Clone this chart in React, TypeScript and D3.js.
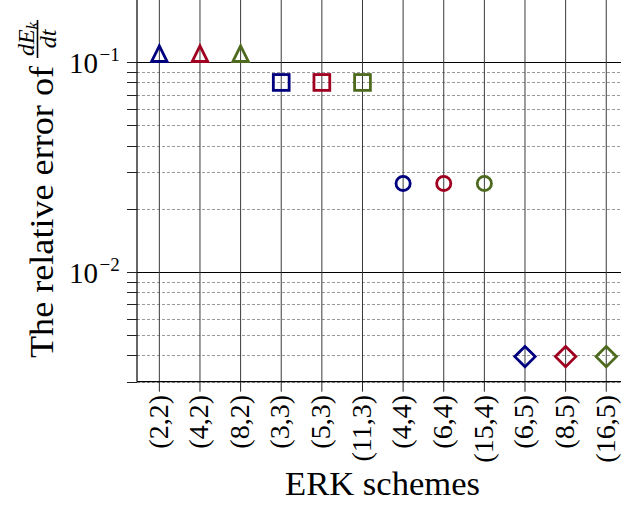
import React from "react";
import * as d3 from "d3";

// ERK schemes (stages, order) and the relative error of dE_k/dt for each
const schemes = ["(2,2)", "(4,2)", "(8,2)", "(3,3)", "(5,3)", "(11,3)", "(4,4)", "(6,4)", "(15,4)", "(6,5)", "(8,5)", "(16,5)"];
const relError = [0.1095, 0.1095, 0.1095, 0.0799, 0.0799, 0.0799, 0.0264, 0.0264, 0.0264, 0.00395, 0.00395, 0.00395];
const markerKinds = ["triangle", "triangle", "triangle", "square", "square", "square", "circle", "circle", "circle", "diamond", "diamond", "diamond"];
const palette = ["#00007F", "#A00020", "#4E6A1E"];
const majorTicks = [0.01, 0.1];
const minorTicks = [0.003, 0.004, 0.005, 0.006, 0.007, 0.008, 0.009, 0.02, 0.03, 0.04, 0.05, 0.06, 0.07, 0.08, 0.09];
const majorTickText = ["−2", "−1"];

const W = 621;
const H = 506;
const left = 137;
const bottom = 381.7;
const top = -1.2;
const right = 628.6;

const FONT = "'Liberation Serif', 'Times New Roman', serif";

// crisp 1px horizontal lines
const snap = (v: number) => Math.round(v) + 0.5;

function Marker({ kind, cx, cy, color }: { kind: string; cx: number; cy: number; color: string }) {
  const sw = 2.8;
  if (kind === "triangle") {
    const r = 7.8;
    const p = `M${cx},${cy - r} L${cx - r},${cy + r} L${cx + r},${cy + r} Z`;
    return <path d={p} fill="none" stroke={color} strokeWidth={sw} strokeLinejoin="miter" />;
  }
  if (kind === "square") {
    const r = 7.9;
    return <rect x={cx - r} y={cy - r} width={2 * r} height={2 * r} fill="none" stroke={color} strokeWidth={sw} />;
  }
  if (kind === "circle") {
    return <circle cx={cx} cy={cy} r={7.1} fill="none" stroke={color} strokeWidth={sw} />;
  }
  const r = 10.2;
  const p = `M${cx},${cy - r} L${cx + r},${cy} L${cx},${cy + r} L${cx - r},${cy} Z`;
  return <path d={p} fill="none" stroke={color} strokeWidth={sw} />;
}

export default function App() {
  const x = d3.scalePoint<string>().domain(schemes).range([left, right]).padding(0.55);
  const y = d3.scaleLog().domain([0.003, 0.2]).range([bottom, top]);

  return (
    <svg width={W} height={H} style={{ position: "absolute", left: 0, top: 0, background: "#fff" }} fontFamily={FONT}>
      <rect x={0} y={0} width={W} height={H} fill="#fff" />
      {/* minor horizontal grid */}
      {minorTicks.map((v) => (
        <line key={"mg" + v} x1={left} x2={right} y1={snap(y(v))} y2={snap(y(v))} stroke="#9a9a9a" strokeWidth={1} strokeDasharray="3,2" />
      ))}
      {/* major horizontal grid */}
      {majorTicks.map((v) => (
        <line key={"Mg" + v} x1={left} x2={right} y1={snap(y(v))} y2={snap(y(v))} stroke="#000" strokeWidth={1} />
      ))}
      {/* vertical grid */}
      {schemes.map((s) => (
        <line key={"vg" + s} x1={x(s)} x2={x(s)} y1={top} y2={bottom} stroke="#3a3a3a" strokeWidth={1} />
      ))}
      {/* spines */}
      <line x1={left} x2={left} y1={top} y2={bottom} stroke="#000" strokeWidth={1.2} />
      <line x1={left} x2={right} y1={bottom} y2={bottom} stroke="#000" strokeWidth={1.2} />
      {/* y ticks */}
      {[...majorTicks, ...minorTicks].map((v) => (
        <line key={"yt" + v} x1={left - 10} x2={left} y1={snap(y(v))} y2={snap(y(v))} stroke="#222" strokeWidth={1} />
      ))}
      {majorTicks.map((v, i) => (
        <g key={"yl" + v}>
          <text x={98} y={y(v) + 11} fontSize={29} textAnchor="end" fill="#000">10</text>
          <text x={99.5} y={y(v) - 0.5} fontSize={19} textAnchor="start" fill="#000">{majorTickText[i]}</text>
        </g>
      ))}
      {/* x ticks and labels */}
      {schemes.map((s) => (
        <g key={"xt" + s}>
          <line x1={x(s)} x2={x(s)} y1={bottom} y2={bottom + 10} stroke="#222" strokeWidth={1} />
          <text transform={`translate(${x(s)! - 1},395) rotate(-90)`} textAnchor="end" dy="0.33em" fontSize={28} fill="#000">{s}</text>
        </g>
      ))}
      {/* markers */}
      {schemes.map((s, i) => (
        <Marker key={"m" + s} kind={markerKinds[i]} cx={x(s)!} cy={y(relError[i])} color={palette[i % 3]} />
      ))}
      {/* axis titles */}
      <text x={382.5} y={495} textAnchor="middle" fontSize={34} textLength={195} lengthAdjust="spacingAndGlyphs" fill="#000">ERK schemes</text>
      <g transform="translate(53,358) rotate(-90)">
        <text x={0} y={0} fontSize={34} textLength={292} lengthAdjust="spacingAndGlyphs" fill="#000">The relative error of</text>
        <text x={319} y={-19} fontSize={24} fontStyle="italic" textAnchor="middle" fill="#000">
          dE<tspan fontSize={17} dy={4}>k</tspan>
        </text>
        <line x1={300} x2={338} y1={-15.5} y2={-15.5} stroke="#000" strokeWidth={1.6} />
        <text x={319} y={3} fontSize={24} fontStyle="italic" textAnchor="middle" fill="#000">dt</text>
      </g>
    </svg>
  );
}
